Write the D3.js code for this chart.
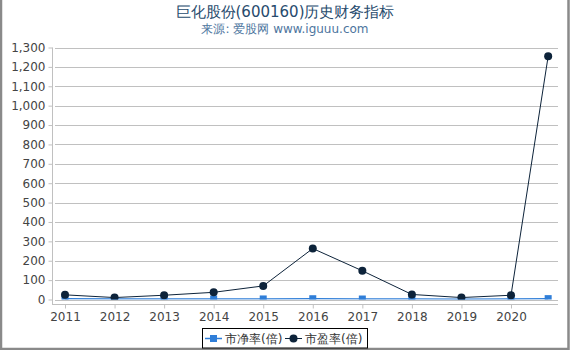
<!DOCTYPE html>
<html>
<head>
<meta charset="utf-8">
<script src="https://cdn.jsdelivr.net/npm/d3@7.9.0/dist/d3.min.js"></script>
<style>
  html, body { margin: 0; padding: 0; background: #fff; }
  svg { display: block; font-family: "DejaVu Sans", sans-serif; }
</style>
</head>
<body>
<svg id="chart" width="570" height="350"></svg>
<script>
// ---- data ----
const periods = [2011, 2012, 2013, 2014, 2015, 2016, 2017, 2018, 2019, 2020, 2020.75];
const tickYears = [2011, 2012, 2013, 2014, 2015, 2016, 2017, 2018, 2019, 2020];
const pbValues = [4, 2, 2.5, 2.3, 2.8, 4, 2.5, 3, 1.8, 2.2, 4.5];      // 市净率(倍)
const peValues = [24, 10, 22, 37, 70, 263, 148, 26, 10, 22, 1255];     // 市盈率(倍)
const yTicks = d3.range(0, 1301, 100);

const svg = d3.select('#chart');
const W = 570, H = 350;
const plot = { left: 55, right: 558, top: 47.5, bottom: 299.5 };

// 2011 sits at x=65, 2020 at x=511
const step = (511 - 65) / 9;
const x = d3.scaleLinear()
  .domain([2011 - (65 - plot.left) / step, 2020 + (plot.right - 511) / step])
  .range([plot.left, plot.right]);
const y = d3.scaleLinear().domain([0, 1300]).range([plot.bottom, plot.top]);

// outer frame (left, right, bottom)
svg.append('rect').attr('x', 0).attr('y', 0).attr('width', W).attr('height', H).attr('fill', '#fff');
svg.append('path')
  .attr('d', `M1,0 V${H - 1} H${W - 1.5} V0`)
  .attr('fill', 'none').attr('stroke', '#8a8a8a').attr('stroke-width', 2.5);

// titles
svg.append('text').attr('x', 285).attr('y', 16.5).attr('text-anchor', 'middle')
  .attr('fill', '#274b6d').attr('font-size', 15).text('巨化股份(600160)历史财务指标');
svg.append('text').attr('x', 285).attr('y', 33).attr('text-anchor', 'middle')
  .attr('fill', '#4d759e').attr('font-size', 12).text('来源: 爱股网 www.iguuu.com');

// gridlines
svg.append('g').selectAll('line').data(yTicks).join('line')
  .attr('x1', plot.left).attr('x2', plot.right)
  .attr('y1', d => Math.round(y(d)) + 0.5).attr('y2', d => Math.round(y(d)) + 0.5)
  .attr('stroke', '#c0c0c0');

// y axis
const yAxis = svg.append('g').attr('transform', 'translate(52.5,0)')
  .call(d3.axisLeft(y).tickValues(yTicks).tickSize(4).tickPadding(3).tickFormat(d3.format(',')));
yAxis.select('.domain').attr('d', `M0,${plot.top} V304`).attr('stroke', '#c0c0c0');
yAxis.selectAll('.tick line').attr('stroke', '#c0c0c0');
yAxis.selectAll('.tick text').attr('fill', '#444').attr('font-size', 12)
  .attr('font-family', '"DejaVu Sans", sans-serif');

// x axis
const xAxis = svg.append('g').attr('transform', 'translate(0,304.5)')
  .call(d3.axisBottom(x).tickValues(tickYears).tickSize(4).tickPadding(4).tickFormat(d3.format('d')));
xAxis.select('.domain').attr('d', `M52,0 H${plot.right}`).attr('stroke', '#c0c0c0');
xAxis.selectAll('.tick line').attr('stroke', '#c0c0c0');
xAxis.selectAll('.tick text').attr('fill', '#444').attr('font-size', 12)
  .attr('font-family', '"DejaVu Sans", sans-serif');

// clip
svg.append('clipPath').attr('id', 'plotclip').append('rect')
  .attr('x', plot.left - 10).attr('y', 0).attr('width', plot.right - plot.left + 20)
  .attr('height', plot.bottom);

const g = svg.append('g').attr('clip-path', 'url(#plotclip)');
const line = vals => d3.line().x((d, i) => x(periods[i])).y(d => y(d))(vals);

// 市净率
g.append('path').attr('d', line(pbValues)).attr('fill', 'none')
  .attr('stroke', '#2f7ed8').attr('stroke-width', 1.5);
g.selectAll('rect.pb').data(pbValues).join('rect').attr('class', 'pb')
  .attr('x', (d, i) => x(periods[i]) - 3.5).attr('y', d => y(d) - 3.5)
  .attr('width', 7).attr('height', 7).attr('fill', '#2f7ed8');

// 市盈率
g.append('path').attr('d', line(peValues)).attr('fill', 'none')
  .attr('stroke', '#0d233a').attr('stroke-width', 1);
g.selectAll('circle.pe').data(peValues).join('circle').attr('class', 'pe')
  .attr('cx', (d, i) => x(periods[i])).attr('cy', d => y(d))
  .attr('r', 4).attr('fill', '#0d233a');

// legend
const lg = svg.append('g');
lg.append('rect').attr('x', 202.5).attr('y', 328.5).attr('width', 165).attr('height', 19.5)
  .attr('fill', '#fff').attr('stroke', '#000');
const items = [
  { label: '市净率(倍)', color: '#2f7ed8', shape: 'square', x0: 205 },
  { label: '市盈率(倍)', color: '#0d233a', shape: 'circle', x0: 285 }
];
items.forEach(it => {
  lg.append('line').attr('x1', it.x0).attr('x2', it.x0 + 17).attr('y1', 338.5).attr('y2', 338.5)
    .attr('stroke', it.color).attr('stroke-width', it.shape === 'square' ? 1.5 : 1);
  if (it.shape === 'square') {
    lg.append('rect').attr('x', it.x0 + 5).attr('y', 335).attr('width', 7).attr('height', 7).attr('fill', it.color);
  } else {
    lg.append('circle').attr('cx', it.x0 + 8.5).attr('cy', 338.5).attr('r', 4).attr('fill', it.color);
  }
  lg.append('text').attr('x', it.x0 + 20).attr('y', 343).attr('font-size', 12)
    .attr('fill', '#333').text(it.label);
});
</script>
</body>
</html>
